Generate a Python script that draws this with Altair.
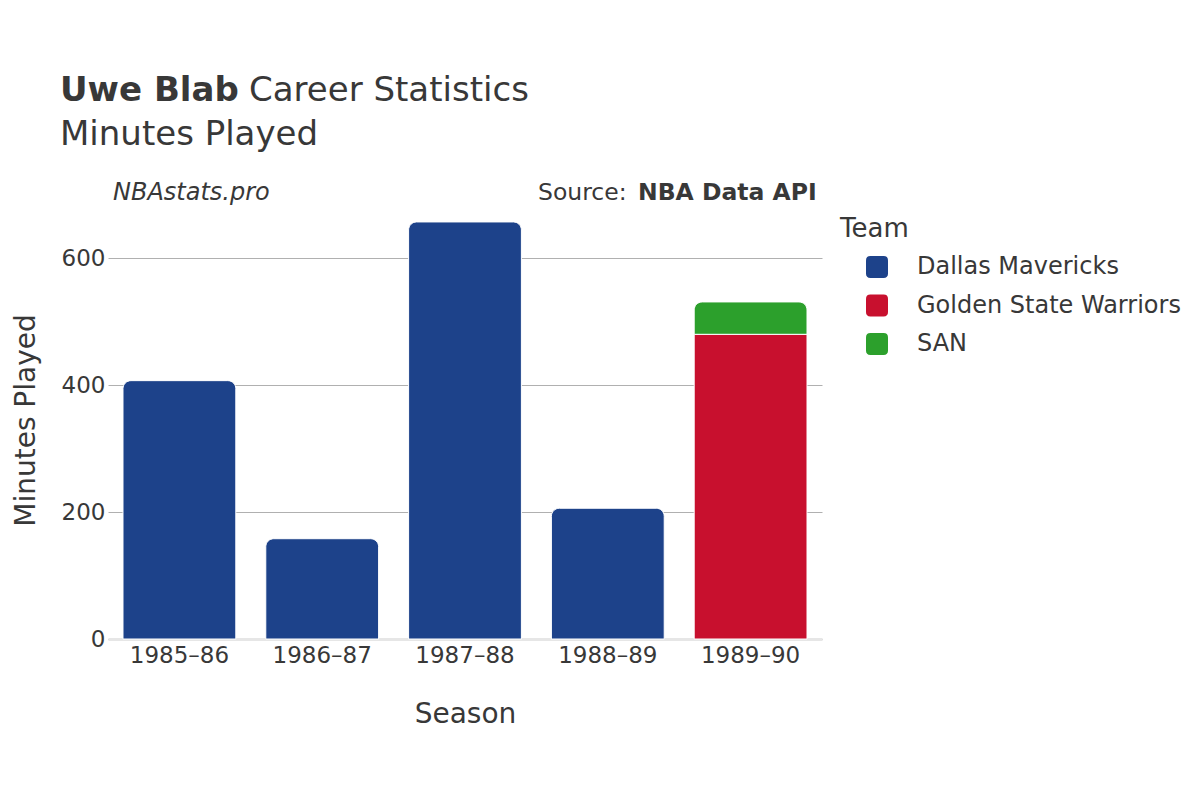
import altair as alt
import pandas as pd

seasons = ["1985–86", "1986–87", "1987–88", "1988–89", "1989–90", "1989–90"]
teams = ["Dallas Mavericks", "Dallas Mavericks", "Dallas Mavericks", "Dallas Mavericks",
         "Golden State Warriors", "SAN"]
minutes = [407, 158, 657, 206, 480, 51]

team_domain = ["Dallas Mavericks", "Golden State Warriors", "SAN"]
team_colors = ["#1d428a", "#c8102e", "#2ca02c"]
season_order = ["1985–86", "1986–87", "1987–88", "1988–89", "1989–90"]

df = pd.DataFrame({"Season": seasons, "Team": teams, "Minutes": minutes})
df["y1"] = df.groupby("Season")["Minutes"].cumsum()
df["y0"] = df["y1"] - df["Minutes"]
df["top"] = df["y1"] == df.groupby("Season")["y1"].transform("max")

FONT = "DejaVu Sans"
TXT = "#383838"

x_enc = alt.X("Season:N", sort=season_order, title="Season",
              scale=alt.Scale(paddingInner=0.21, paddingOuter=0.105),
              axis=alt.Axis(labelAngle=0, labelFontSize=23, titleFontSize=28,
                            labelPadding=5, titlePadding=33, ticks=False,
                            domainColor="#e6e6e6", domainWidth=3,
                            labelColor=TXT, titleColor=TXT, titleFontWeight="normal",
                            labelFont=FONT, titleFont=FONT))
y_enc = alt.Y("y1:Q", title="Minutes Played",
              scale=alt.Scale(domain=[0, 690], nice=False),
              axis=alt.Axis(values=[0, 200, 400, 600], labelFontSize=23, titleFontSize=28,
                            labelPadding=3, titlePadding=21, ticks=False, domain=False,
                            gridColor="#b0b0b0", gridWidth=1,
                            labelColor=TXT, titleColor=TXT, titleFontWeight="normal",
                            labelFont=FONT, titleFont=FONT))
rounded_sq = "M-0.6,-1L0.6,-1Q1,-1 1,-0.6L1,0.6Q1,1 0.6,1L-0.6,1Q-1,1 -1,0.6L-1,-0.6Q-1,-1 -0.6,-1Z"
color_enc = alt.Color("Team:N", title=None,
                      scale=alt.Scale(domain=team_domain, range=team_colors),
                      legend=alt.Legend(orient="none", legendX=757, legendY=54,
                                        symbolType=rounded_sq, symbolSize=484,
                                        symbolStrokeWidth=0, symbolOpacity=1,
                                        labelFontSize=24, labelFont=FONT, labelColor=TXT,
                                        labelOffset=28, rowPadding=14.5, padding=0,
                                        labelLimit=400))

top_bars = alt.Chart(df).transform_filter("datum.top").mark_bar(
    cornerRadiusTopLeft=8, cornerRadiusTopRight=8, stroke="white", strokeWidth=1
).encode(x=x_enc, y=y_enc, y2="y0:Q", color=color_enc)

low_bars = alt.Chart(df).transform_filter("!datum.top").mark_bar(
    stroke="white", strokeWidth=1
).encode(x=x_enc, y=y_enc, y2="y0:Q", color=color_enc)


def label(text, x, y, size, weight="normal", style="normal", align="left", angle=0):
    return alt.Chart(pd.DataFrame({"t": [text]})).mark_text(
        align=align, baseline="alphabetic", fontSize=size, fontWeight=weight,
        fontStyle=style, font=FONT, color=TXT, angle=angle
    ).encode(text="t:N", x=alt.value(x), y=alt.value(y))


texts = [
    label("Uwe Blab", -48, -100, 34, weight="bold"),
    label("Career Statistics", 141, -100, 34),
    label("Minutes Played", -48, -56, 34),
    label("NBAstats.pro", 5, -1, 24, style="italic"),
    label("Source:", 430, -1, 23.5),
    label("NBA Data API", 530, -1, 23.5, weight="bold"),
    label("Team", 732, 36, 26),
]

chart = alt.layer(low_bars, top_bars, *texts).properties(
    width=714, height=438,
    autosize="none",
    background="white",
    padding={"left": 100, "top": 193, "right": 370, "bottom": 153},
).configure_view(stroke=None, strokeWidth=0)

chart.save("out.html", embed_options={"renderer": "svg", "actions": False})
